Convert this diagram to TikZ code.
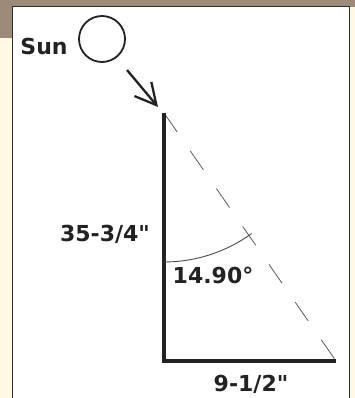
\documentclass[tikz,border=0pt]{standalone}
\usepackage{fontspec}
\setmainfont{DejaVu Sans}[Ligatures=TeXOff]
\usetikzlibrary{arrows.meta}
\definecolor{creme}{HTML}{FFF8E4}
\definecolor{pierre}{HTML}{9C8B7B}
\definecolor{cadre}{HTML}{2E2E2E}
\definecolor{trait}{HTML}{222222}

\begin{document}
\begin{tikzpicture}[x=1pt, y=-1pt,
    etiquette/.style={font=\bfseries\fontsize{22}{26}\selectfont, text=trait, inner sep=0pt}]
    \useasboundingbox (0,0) rectangle (355,398);
    % Fond
    \fill[creme] (0,0) rectangle (355,398);
    \fill[pierre] (0,0) rectangle (355,7);
    \fill[pierre] (0,0) rectangle (12.5,38);
    \filldraw[fill=white, draw=cadre, line width=1pt] (12.5,398) -- (12.5,7) -- (349.5,7) -- (349.5,398);

    % Soleil
    \node[etiquette] (sun) at (44,46) {Sun};
    \node[draw=trait, circle, line width=1.8pt, minimum size=46pt, inner sep=0pt] (soleil) at (102,39) {};

    % Rayon
    \coordinate (rayonA) at (127,70);
    \coordinate (rayonB) at (158,107);
    \draw[trait, line width=2.3pt, -{Straight Barb[length=21pt, width=22pt, line width=2.3pt]}] (rayonA) -- (rayonB);

    % Triangle
    \coordinate (haut) at (164,113);
    \coordinate (coin) at (164,361);
    \coordinate (bout) at (336,361);
    \draw[gray!70!black, line width=0.8pt, dash pattern=on 23pt off 23pt] (haut) -- (bout);
    \draw[trait, line width=4pt] (haut) -- (coin) -- (bout);

    % Angle
    \draw[gray!60!black, line width=0.9pt] (haut) ++(90:149) arc (90:54:149);

    % Cotes
    \node[etiquette] (hauteur) at (105,234) {35-3/4"};
    \node[etiquette] (angle) at (213,275) {14.90°};
    \node[etiquette] (base) at (251,384) {9-1/2"};
\end{tikzpicture}
\end{document}
